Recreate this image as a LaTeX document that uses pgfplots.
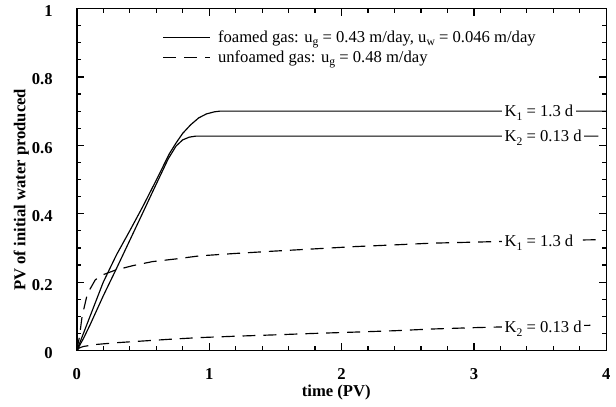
\documentclass[border=0pt]{standalone}
\usepackage{fontspec}
\setmainfont{Liberation Serif}
\usepackage{pgfplots}
\pgfplotsset{compat=1.18}
\newcommand{\lowsub}[1]{\raisebox{-0.45ex}{\scriptsize #1}}
\begin{document}
\begin{tikzpicture}
\begin{axis}[
    scale only axis,
    width=318.6pt, height=205.8pt,
    xmin=0, xmax=4, ymin=0, ymax=1,
    xtick={0,1,2,3,4},
    ytick={0,0.2,0.4,0.6,0.8,1},
    minor x tick num=4,
    minor y tick num=3,
    tick align=inside,
    major tick length=4.6pt,
    minor tick length=2.6pt,
    axis line style={line width=0.9pt},
    every tick/.append style={line width=0.7pt, black},
    tick label style={font=\bfseries, /pgf/number format/assume math mode=true},
    yticklabel style={xshift=-11pt, yshift=-1.5pt},
    xticklabel style={yshift=-7pt},
    xlabel={\bfseries time (PV)},
    ylabel={\bfseries PV of initial water produced},
    xlabel style={at={(axis description cs:0.49,-0.122)}, anchor=center},
    ylabel style={at={(axis description cs:-0.105,0.47)}, anchor=center},
    legend style={draw=none, fill=none, inner sep=0pt,
        at={(axis description cs:0.162,0.885)}, anchor=west,
        row sep=1.5pt, nodes={inner sep=1pt},
        /tikz/every odd column/.append style={column sep=3.5pt}},
    legend cell align=left,
    legend image code/.code={\draw[#1] (0pt,0pt) -- (28pt,0pt);},
]
% foamed gas, K1 = 1.3 d
\addplot[black, line width=0.7pt, no marks] coordinates {
    (0,0) (0.05,0.05) (0.1,0.1) (0.2,0.2) (0.3,0.28) (0.4,0.35) (0.5,0.422)
    (0.6,0.498) (0.7,0.576) (0.75,0.607) (0.8,0.635) (0.86,0.66) (0.92,0.68)
    (0.98,0.692) (1.04,0.698) (1.08,0.70) (4,0.70)
};
\addlegendentry{foamed gas: u\lowsub{g} = 0.43 m/day, u\lowsub{w} = 0.046 m/day}
% foamed gas, K2 = 0.13 d
\addplot[black, line width=0.7pt, no marks, forget plot] coordinates {
    (0,0) (0.05,0.035) (0.1,0.075) (0.2,0.16) (0.3,0.24) (0.4,0.322) (0.5,0.404)
    (0.575,0.466) (0.69,0.56) (0.75,0.598) (0.8,0.616) (0.85,0.624) (0.9,0.627)
    (3.94,0.627)
};
% unfoamed gas, K1 = 1.3 d
\addplot[black, line width=0.7pt, no marks, dash pattern=on 7.8pt off 4.8pt] coordinates {
    (0,0) (0.02,0.04) (0.04,0.10) (0.08,0.166) (0.14,0.207) (0.2,0.222) (0.29,0.235)
    (0.42,0.248) (0.57,0.26) (0.75,0.268) (0.93,0.277) (1.2,0.284) (1.5,0.291)
    (1.78,0.297) (2.1,0.304) (2.4,0.309) (2.68,0.314) (3.0,0.317) (3.3,0.32)
    (3.6,0.322) (3.92,0.324)
};
\addlegendentry{unfoamed gas: u\lowsub{g} = 0.48 m/day}
% unfoamed gas, K2 = 0.13 d
\addplot[black, line width=0.7pt, no marks, dash pattern=on 7.8pt off 4.8pt, forget plot] coordinates {
    (0,0) (0.02,0.008) (0.05,0.012) (0.15,0.018) (0.3,0.023) (0.5,0.028) (0.7,0.033)
    (0.93,0.038) (1.2,0.042) (1.5,0.046) (1.78,0.05) (2.1,0.054) (2.4,0.058)
    (2.68,0.063) (3.0,0.067) (3.3,0.07) (3.6,0.072) (3.9,0.074)
};
\node[fill=white, inner sep=1.5pt, anchor=base west, yshift=-3.3pt] at (axis cs:3.21,0.70) {K\lowsub{1} = 1.3 d};
\node[fill=white, inner sep=1.5pt, anchor=base west, yshift=-3.3pt] at (axis cs:3.21,0.627) {K\lowsub{2} = 0.13 d};
\node[fill=white, inner sep=1.5pt, anchor=base west, yshift=-3.3pt] at (axis cs:3.21,0.319) {K\lowsub{1} = 1.3 d};
\node[fill=white, inner sep=1.5pt, anchor=base west, yshift=-3.3pt] at (axis cs:3.21,0.068) {K\lowsub{2} = 0.13 d};
\end{axis}
\path (current axis.north east) ++(4.8pt,4.2pt);
\path (current axis.south west) ++(-46.2pt,-33.6pt);
\end{tikzpicture}
\end{document}
